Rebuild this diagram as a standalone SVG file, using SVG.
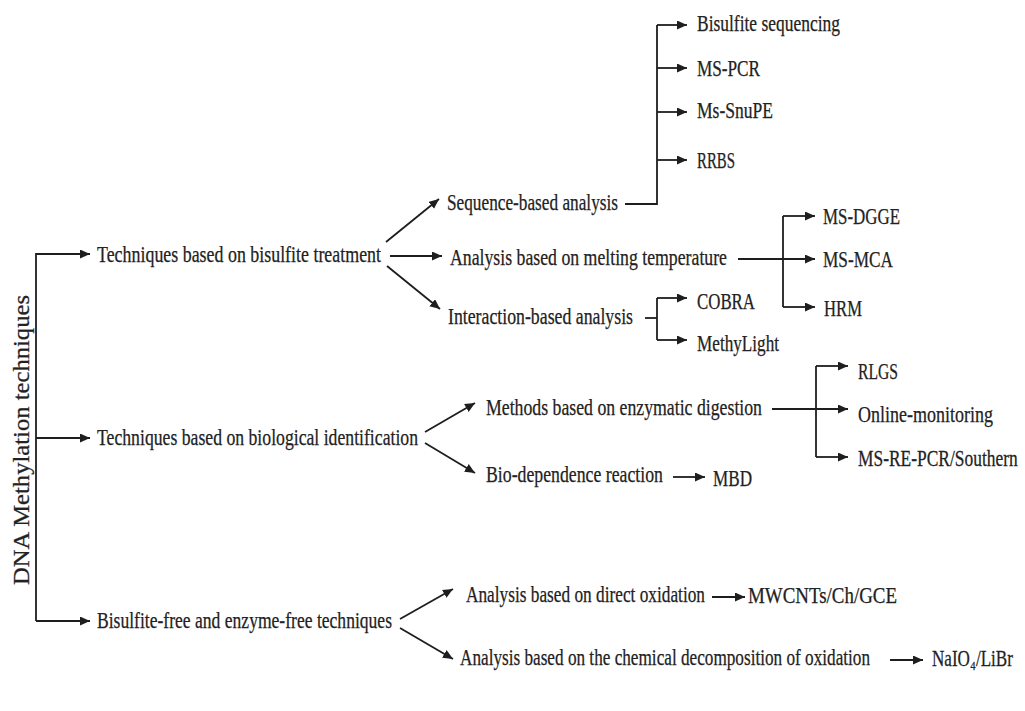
<svg xmlns="http://www.w3.org/2000/svg" width="1025" height="711" viewBox="0 0 1025 711">
<style>
text{font-family:"Liberation Serif","Times New Roman","DejaVu Serif",serif;font-size:22.5px;fill:#222;stroke:#222;stroke-width:0.25}
text.vt{font-size:23px}
.c{fill:none;stroke:#1e1e1e;stroke-width:1.8}
.a{marker-end:url(#ah)}
</style>
<defs>
<marker id="ah" markerUnits="userSpaceOnUse" markerWidth="11" markerHeight="10" refX="10" refY="4.5" orient="auto">
<path d="M0,0 L10,4.5 L0,9 z" fill="#1e1e1e"/>
</marker>
</defs>
<rect width="1025" height="711" fill="#fff"/>
<g id="connectors">
<path class="c" d="M36,253 V621"/>
<path class="c a" d="M36,254 H90"/>
<path class="c a" d="M36,438 H90"/>
<path class="c a" d="M36,621 H90"/>
<path class="c a" d="M386,242 L439,199"/>
<path class="c a" d="M390,256 H442"/>
<path class="c a" d="M387,266 L440,309"/>
<path class="c" d="M625,204 H657 V25"/>
<path class="c a" d="M657,25 H687"/>
<path class="c a" d="M657,68 H687"/>
<path class="c a" d="M657,112 H687"/>
<path class="c a" d="M657,160 H687"/>
<path class="c a" d="M738,259 H815"/>
<path class="c" d="M783,216 V307"/>
<path class="c a" d="M783,216 H815"/>
<path class="c a" d="M783,307 H815"/>
<path class="c" d="M645,318 H657"/>
<path class="c" d="M657,298 V340"/>
<path class="c a" d="M657,298 H687"/>
<path class="c a" d="M657,340 H687"/>
<path class="c a" d="M425,432 L475,403"/>
<path class="c a" d="M425,443 L475,473"/>
<path class="c a" d="M772,409 H848"/>
<path class="c" d="M816,366 V457"/>
<path class="c a" d="M816,366 H848"/>
<path class="c a" d="M816,457 H848"/>
<path class="c a" d="M673,477 H705"/>
<path class="c a" d="M400,619 L453,589"/>
<path class="c a" d="M400,628 L453,659"/>
<path class="c a" d="M712,597 H745"/>
<path class="c a" d="M890,660 H923"/>
</g>
<g id="root"><text class="vt" transform="translate(29,440) rotate(-90)" text-anchor="middle" textLength="290" lengthAdjust="spacingAndGlyphs">DNA Methylation techniques</text></g>
<g id="bisulfite"><text x="97" y="262" textLength="284" lengthAdjust="spacingAndGlyphs">Techniques based on bisulfite treatment</text></g>
<g id="biological"><text x="97" y="445" textLength="321" lengthAdjust="spacingAndGlyphs">Techniques based on biological identification</text></g>
<g id="free"><text x="97" y="628" textLength="295" lengthAdjust="spacingAndGlyphs">Bisulfite-free and enzyme-free techniques</text></g>
<g id="sequence"><text x="447" y="210" textLength="171" lengthAdjust="spacingAndGlyphs">Sequence-based analysis</text></g>
<g id="melting"><text x="450" y="265" textLength="277" lengthAdjust="spacingAndGlyphs">Analysis based on melting temperature</text></g>
<g id="interaction"><text x="448" y="324" textLength="185" lengthAdjust="spacingAndGlyphs">Interaction-based analysis</text></g>
<g id="bs-seq"><text x="697" y="31" textLength="143" lengthAdjust="spacingAndGlyphs">Bisulfite sequencing</text></g>
<g id="ms-pcr"><text x="697" y="76" textLength="63" lengthAdjust="spacingAndGlyphs">MS-PCR</text></g>
<g id="ms-snupe"><text x="697" y="118" textLength="76" lengthAdjust="spacingAndGlyphs">Ms-SnuPE</text></g>
<g id="rrbs"><text x="697" y="168" textLength="38" lengthAdjust="spacingAndGlyphs">RRBS</text></g>
<g id="ms-dgge"><text x="823" y="224" textLength="77" lengthAdjust="spacingAndGlyphs">MS-DGGE</text></g>
<g id="ms-mca"><text x="823" y="267" textLength="70" lengthAdjust="spacingAndGlyphs">MS-MCA</text></g>
<g id="hrm"><text x="824" y="316" textLength="38" lengthAdjust="spacingAndGlyphs">HRM</text></g>
<g id="cobra"><text x="697" y="309" textLength="58" lengthAdjust="spacingAndGlyphs">COBRA</text></g>
<g id="methylight"><text x="697" y="351" textLength="82" lengthAdjust="spacingAndGlyphs">MethyLight</text></g>
<g id="enzymatic"><text x="486" y="415" textLength="276" lengthAdjust="spacingAndGlyphs">Methods based on enzymatic digestion</text></g>
<g id="rlgs"><text x="858" y="379" textLength="40" lengthAdjust="spacingAndGlyphs">RLGS</text></g>
<g id="online"><text x="858" y="422" textLength="135" lengthAdjust="spacingAndGlyphs">Online-monitoring</text></g>
<g id="ms-re-pcr" transform="translate(858,466) scale(0.775,1)"><text x="0" y="0">MS-RE-PCR/Southern</text></g>
<g id="biodep"><text x="486" y="482" textLength="177" lengthAdjust="spacingAndGlyphs">Bio-dependence reaction</text></g>
<g id="mbd"><text x="713" y="486" textLength="39" lengthAdjust="spacingAndGlyphs">MBD</text></g>
<g id="direct"><text x="466" y="602" textLength="239" lengthAdjust="spacingAndGlyphs">Analysis based on direct oxidation</text></g>
<g id="mwcnts"><text x="748" y="603" textLength="149" lengthAdjust="spacingAndGlyphs">MWCNTs/Ch/GCE</text></g>
<g id="decomp"><text x="460" y="665" textLength="410" lengthAdjust="spacingAndGlyphs">Analysis based on the chemical decomposition of oxidation</text></g>
<g id="naio4" transform="translate(932,666) scale(0.76,1)"><text x="0" y="0">NaIO₄/LiBr</text></g>
</svg>
